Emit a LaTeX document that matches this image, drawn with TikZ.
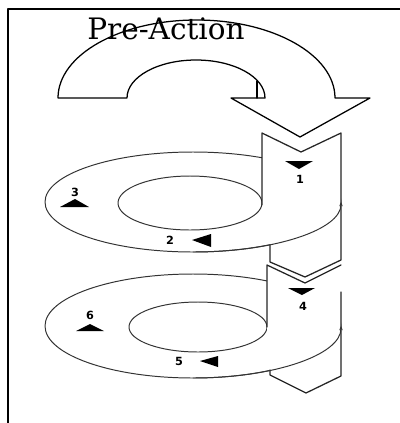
\documentclass[tikz,border=0pt]{standalone}
\usepackage{fontspec}
\setmainfont{DejaVu Serif}
\newfontfamily\numfont{DejaVu Sans}
\usepackage{tikz}
\usetikzlibrary{calc,arrows.meta}

\begin{document}
\begin{tikzpicture}[x=0.025cm, y=-0.025cm, line cap=round, line join=round,
    ring/.style={line width=0.7pt, black!80},
    chevron/.style={line width=0.9pt, black!85},
    num/.style={font=\numfont\bfseries\fontsize{8}{8}\selectfont, inner sep=0pt},
    marker/.style={fill=black, draw=none}]

			\useasboundingbox (0,0) rectangle (400,423);
			\clip (0,0) rectangle (400,423);

			%====================
			% 1) 外框
			%====================
			\draw[line width=1.1pt] (8,9) rectangle (420,440);

			%====================
			% 2) 上方弯箭头 Pre-Action
			%====================
			\coordinate (OutL) at (58,98);
			\coordinate (InL)  at (127,98);
			\coordinate (InR)  at (265,98);
			\coordinate (HeadL) at (231,98);
			\coordinate (Tip)  at (300,137);
			\coordinate (HeadR) at (370,98);
			\coordinate (OutR) at (335,98);

			\draw[line width=0.9pt]
				(OutL) -- (InL)
				arc[start angle=180, end angle=360, x radius=69, y radius=38]
				-- (HeadL) -- (Tip) -- (HeadR) -- (OutR)
				arc[start angle=360, end angle=180, x radius=138.5, y radius=78]
				-- cycle;
			\draw[line width=0.9pt] (257,81) -- (257,98);

			\node[font=\fontsize{21}{21}\selectfont, inner sep=0pt, anchor=base] (title) at (166,39) {Pre-Action};

			%====================
			% 3) 第一圈：椭圆环与箭形
			%====================
			\def\rxo{148} % 外椭圆半轴
			\draw[ring] (193,202) ellipse[x radius=\rxo, y radius=50];
			\draw[ring] (190,203) ellipse[x radius=72, y radius=27];

			\fill[white] (262,133) -- (301,152) -- (341,133) -- (341,260)
				-- (305,277) -- (270,262) -- (270,245) -- (262,205) -- cycle;
			\draw[chevron] (262,205) -- (262,133) -- (301,152) -- (341,133)
				-- (341,260) -- (305,277) -- (270,262) -- (270,245);

			% 前半段椭圆弧（压在箭形上）
			\draw[ring, -{Stealth[length=3pt, width=2.5pt]}]
				(193,252) arc[start angle=90, end angle=0, x radius=\rxo, y radius=50];

			%====================
			% 4) 第二圈
			%====================
			\draw[ring] (193,326) ellipse[x radius=\rxo, y radius=52];
			\draw[ring] (198,327) ellipse[x radius=69, y radius=25];

			\fill[white] (267,265) -- (305,283) -- (341,265) -- (341,376)
				-- (306,393) -- (270,375) -- (270,370) -- (267,327) -- cycle;
			\draw[chevron] (267,327) -- (267,265) -- (305,283) -- (341,265);
			\draw[chevron] (341,292) -- (341,376) -- (306,393) -- (270,375) -- (270,370);

			\draw[ring, -{Stealth[length=3pt, width=2.5pt]}]
				(193,378) arc[start angle=90, end angle=0, x radius=\rxo, y radius=52];

			%====================
			% 5) 三角标记与编号
			%====================
			\fill[marker] (285,161) -- (313,161) -- (299,169) -- cycle;
			\fill[marker] (60,207) -- (89,207) -- (75,199) -- cycle;
			\fill[marker] (192,240) -- (211,234) -- (211,247) -- cycle;
			\fill[marker] (288,288) -- (315,288) -- (302,295) -- cycle;
			\fill[marker] (76,331) -- (104,331) -- (90,324) -- cycle;
			\fill[marker] (200,361) -- (218,356) -- (218,367) -- cycle;

			\node[num] (n1) at (300,179) {1};
			\node[num] (n2) at (170,240) {2};
			\node[num] (n3) at (75,192)  {3};
			\node[num] (n4) at (303,306) {4};
			\node[num] (n5) at (179,361) {5};
			\node[num] (n6) at (90,315)  {6};

		\end{tikzpicture}
\end{document}
